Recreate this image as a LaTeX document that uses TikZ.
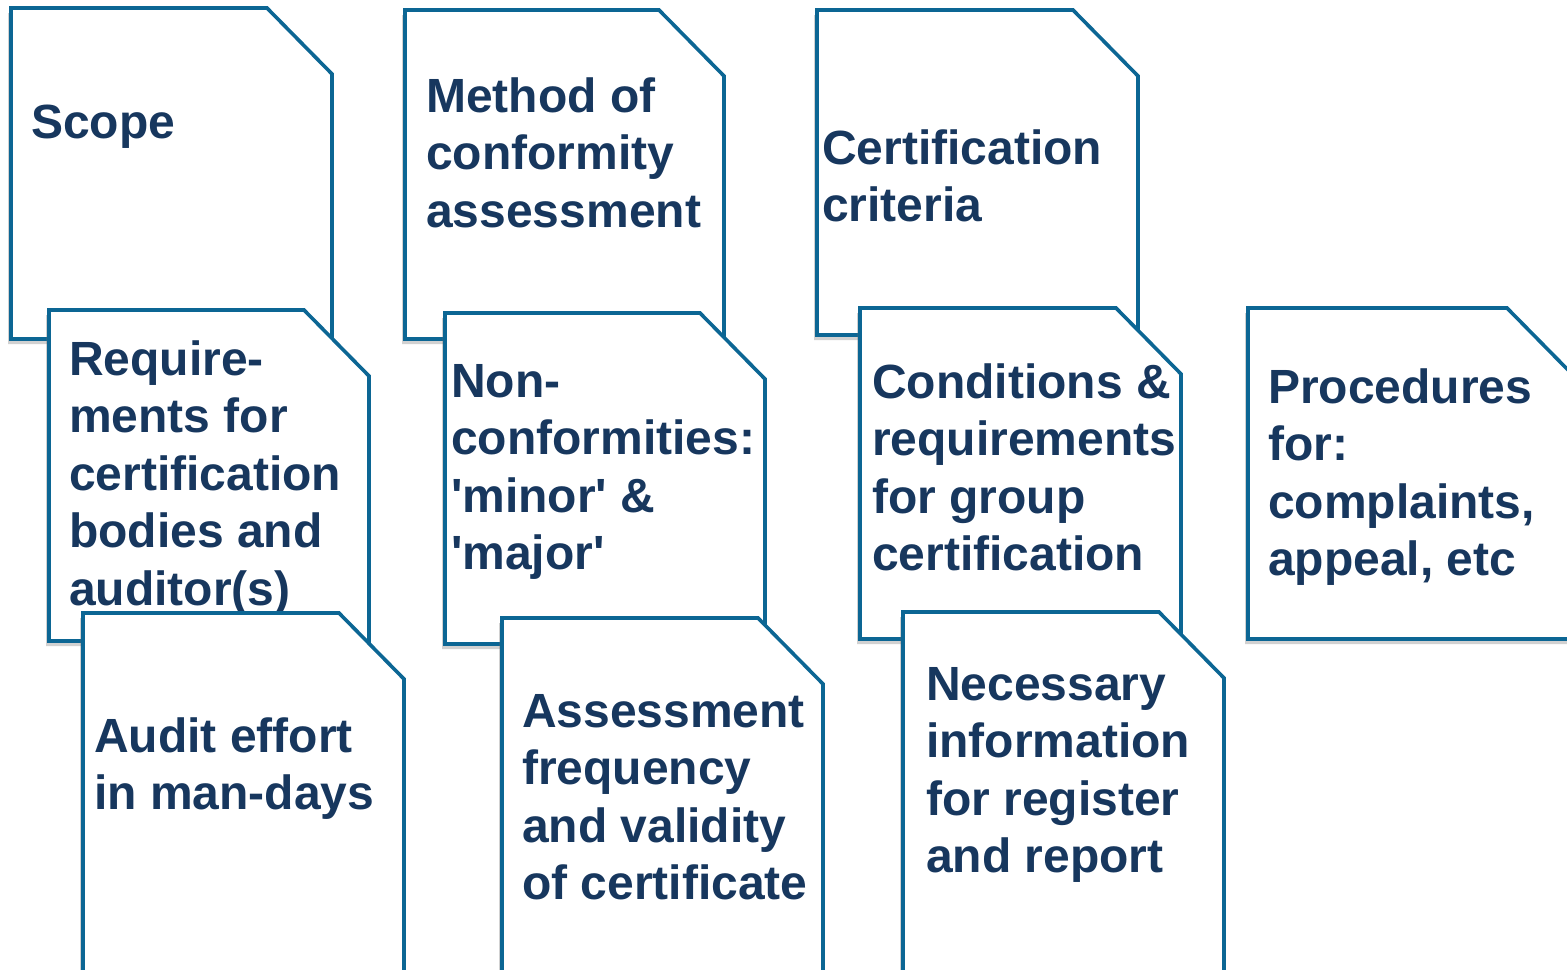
\documentclass[tikz,border=0pt]{standalone}
\usepackage{fontspec}
\setmainfont{Liberation Sans}
\usetikzlibrary{shadows}
\definecolor{docedge}{HTML}{0C6694}
\definecolor{doctext}{HTML}{17375E}
\newcommand{\docshape}[4]{%
  \fill[docfill] (#1,#2) -- ({#3-65},#2) -- (#3,{#2+66}) -- (#3,#4) -- (#1,#4) -- cycle;}
\newcommand{\fs}{\rule{0pt}{40bp}}
\newcommand{\sq}{\textquotesingle}
\begin{document}
\begin{tikzpicture}[x=1bp,y=-1bp,
  docfill/.style={fill=white,draw=docedge,line width=3.6bp,line join=miter,
    drop shadow={shadow xshift=-3bp,shadow yshift=-5bp,opacity=0.3,fill=black!60}},
  doclabel/.style={anchor=north west,inner sep=0pt,align=left,text=doctext,
    font=\fontsize{48bp}{57.5bp}\selectfont\bfseries}]
\useasboundingbox (0,0) rectangle (1567,969);
\clip (0,0) rectangle (1567,969);
% column 1
\docshape{11}{8}{332}{339}
\node[doclabel] (scope) at (31,{138-40}) {\fs Scope};
\docshape{49}{310}{369}{641}
\node[doclabel] (reqs) at (69,{375-40}) {\fs Require-\\ments for\\certification\\bodies and\\auditor(s)};
\docshape{83}{613}{404}{990}
\node[doclabel] (audit) at (94,{752-40}) {\fs Audit effort\\in man-days};
% column 2
\docshape{405}{10}{724}{339}
\node[doclabel] (method) at (426,{112-40}) {\fs Method of\\conformity\\assessment};
\docshape{445}{313}{765}{644}
\node[doclabel] (noncon) at (451,{397-40}) {\fs Non-\\conformities:\\\sq minor\sq{} \&\\\sq major\sq};
\docshape{502}{618}{823}{990}
\node[doclabel] (freq) at (522,{727-40}) {\fs Assessment\\frequency\\and validity\\of certificate};
% column 3
\docshape{817}{10}{1138}{335}
\node[doclabel] (crit) at (822,{164-40}) {\fs Certification\\criteria};
\docshape{860}{308}{1181}{639}
\node[doclabel] (group) at (872,{398-40}) {\fs Conditions \&\\requirements\\for group\\certification};
\docshape{903}{612}{1224}{990}
\node[doclabel] (info) at (926,{700-40}) {\fs Necessary\\information\\for register\\and report};
% column 4
\docshape{1248}{308}{1572}{639}
\node[doclabel] (proc) at (1268,{403-40}) {\fs Procedures\\for:\\complaints,\\appeal, etc};
\end{tikzpicture}
\end{document}
